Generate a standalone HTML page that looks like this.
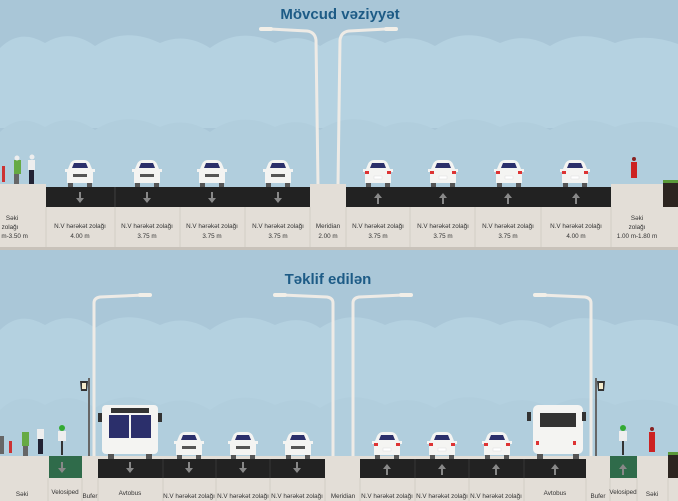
<!DOCTYPE html>
<html><head><meta charset="utf-8"><style>
html,body{margin:0;padding:0;width:678px;height:501px;overflow:hidden;background:#aac7d8}
svg{display:block}
text{font-family:"Liberation Sans",sans-serif}
.l{font-size:6.3px;fill:#333;text-anchor:middle}
.t{font-size:15px;font-weight:bold;fill:#1d5b86;text-anchor:middle}
</style></head><body>
<svg width="678" height="501" viewBox="0 0 678 501" style="overflow:hidden">
<defs>
<clipPath id="c1"><rect x="0" y="0" width="678" height="250"/></clipPath>
<clipPath id="c2"><rect x="0" y="250" width="678" height="251"/></clipPath>
<g id="cf">
<path d="M6 4 Q8 0 12 0 H20 Q24 0 26 4 L28 9 H31 V12 H29 V23 H3 V12 H1 V9 H4 Z" fill="#f4f4f2"/>
<path d="M8 8 L10 3 H22 L24 8 Z" fill="#2b2f6b"/>
<rect x="9" y="14" width="14" height="3" fill="#555"/>
<rect x="4" y="23" width="5" height="4" fill="#555"/><rect x="23" y="23" width="5" height="4" fill="#555"/>
</g>
<g id="cr">
<path d="M6 4 Q8 0 12 0 H20 Q24 0 26 4 L28 9 H31 V12 H29 V23 H3 V12 H1 V9 H4 Z" fill="#f4f4f2"/>
<path d="M8 8 L10 3 H22 L24 8 Z" fill="#2b2f6b"/>
<rect x="3" y="11" width="4" height="3" fill="#d33"/><rect x="25" y="11" width="4" height="3" fill="#d33"/>
<rect x="12" y="16" width="8" height="3" fill="#fff" stroke="#ddd" stroke-width=".5"/>
<rect x="4" y="23" width="5" height="4" fill="#555"/><rect x="23" y="23" width="5" height="4" fill="#555"/>
</g>
<g id="ad"><rect x="-1" y="-6" width="2" height="7" fill="#888"/><path d="M-4 0 L4 0 L0 5 Z" fill="#888"/></g>
<g id="au"><rect x="-1" y="-1" width="2" height="7" fill="#888"/><path d="M-4 0 L4 0 L0 -5 Z" fill="#888"/></g>
<path id="cl" d="M0 60 Q20 40 45 55 Q70 40 95 58 Q125 38 160 55 Q185 44 210 60 Q240 38 275 55 Q300 44 320 58 Q350 38 385 55 Q410 44 435 58 Q465 38 500 55 Q525 44 550 58 Q580 40 615 55 Q645 44 678 56 V140 H0 Z"/>
</defs>
<rect width="678" height="250" fill="#a9c6d7"/>
<g clip-path="url(#c1)">
<use href="#cl" y="-12" fill="#b5d2e1"/>
<use href="#cl" y="72" fill="#b1cedd"/>
</g>
<text class="t" x="340" y="19">Mövcud vəziyyət</text>
<path d="M318 185 L316 40 Q315 32 307 31 L270 29" stroke="#eeebe6" stroke-width="3" fill="none"/>
<rect x="259" y="27" width="14" height="4" rx="2" fill="#f2efe8"/>
<path d="M338 185 L340 40 Q341 32 349 31 L386 29" stroke="#eeebe6" stroke-width="3" fill="none"/>
<rect x="384" y="27" width="14" height="4" rx="2" fill="#f2efe8"/>
<rect x="0" y="184" width="46" height="64" fill="#e3ded7"/>
<rect x="46" y="207" width="264" height="41" fill="#e3ded7"/>
<rect x="310" y="184" width="36" height="64" fill="#e3ded7"/>
<rect x="346" y="207" width="265" height="41" fill="#e3ded7"/>
<rect x="611" y="184" width="52" height="64" fill="#e3ded7"/>
<rect x="663" y="182" width="15" height="66" fill="#e3ded7"/>
<rect x="663" y="182" width="15" height="25" fill="#2c2520"/>
<rect x="663" y="180" width="15" height="3" fill="#5a9a3a"/>
<rect x="0" y="247" width="678" height="3" fill="#c8c2ba"/>
<rect x="46" y="187" width="264" height="20" fill="#222"/>
<rect x="346" y="187" width="265" height="20" fill="#222"/>
<g stroke="#555" stroke-width=".6"><line x1="115" y1="187" x2="115" y2="207"/></g>
<g stroke="#cfc9c1" stroke-width=".8">
<line x1="46" y1="207" x2="46" y2="247"/><line x1="115" y1="207" x2="115" y2="247"/><line x1="180" y1="207" x2="180" y2="247"/><line x1="245" y1="207" x2="245" y2="247"/><line x1="310" y1="207" x2="310" y2="247"/><line x1="346" y1="207" x2="346" y2="247"/><line x1="410" y1="207" x2="410" y2="247"/><line x1="475" y1="207" x2="475" y2="247"/><line x1="541" y1="207" x2="541" y2="247"/><line x1="611" y1="207" x2="611" y2="247"/>
</g>
<use href="#ad" x="80" y="198"/><use href="#ad" x="147" y="198"/><use href="#ad" x="212" y="198"/><use href="#ad" x="278" y="198"/>
<use href="#au" x="378" y="198"/><use href="#au" x="443" y="198"/><use href="#au" x="508" y="198"/><use href="#au" x="576" y="198"/>
<use href="#cf" x="64" y="160"/><use href="#cf" x="131" y="160"/><use href="#cf" x="196" y="160"/><use href="#cf" x="262" y="160"/>
<use href="#cr" x="362" y="160"/><use href="#cr" x="427" y="160"/><use href="#cr" x="493" y="160"/><use href="#cr" x="559" y="160"/>
<rect x="2" y="166" width="3" height="16" fill="#c33"/>
<rect x="14" y="160" width="7" height="14" fill="#6a4"/><circle cx="17" cy="158" r="2.5" fill="#eee"/><rect x="14" y="174" width="5" height="10" fill="#666"/>
<rect x="28" y="160" width="7" height="10" fill="#eee"/><circle cx="32" cy="157" r="2.5" fill="#eee"/><rect x="29" y="170" width="5" height="14" fill="#223"/>
<rect x="631" y="162" width="6" height="16" fill="#c22"/><circle cx="634" cy="159" r="2" fill="#822"/>
<g class="l">
<text x="12" y="220">Səki</text><text x="10" y="229">zolağı</text><text x="12" y="238">0 m-3.50 m</text>
<text x="80" y="228">N.V hərəkət zolağı</text><text x="80" y="238">4.00 m</text>
<text x="147" y="228">N.V hərəkət zolağı</text><text x="147" y="238">3.75 m</text>
<text x="212" y="228">N.V hərəkət zolağı</text><text x="212" y="238">3.75 m</text>
<text x="278" y="228">N.V hərəkət zolağı</text><text x="278" y="238">3.75 m</text>
<text x="328" y="228">Meridian</text><text x="328" y="238">2.00 m</text>
<text x="378" y="228">N.V hərəkət zolağı</text><text x="378" y="238">3.75 m</text>
<text x="443" y="228">N.V hərəkət zolağı</text><text x="443" y="238">3.75 m</text>
<text x="508" y="228">N.V hərəkət zolağı</text><text x="508" y="238">3.75 m</text>
<text x="576" y="228">N.V hərəkət zolağı</text><text x="576" y="238">4.00 m</text>
<text x="637" y="220">Səki</text><text x="637" y="229">zolağı</text><text x="637" y="238">1.00 m-1.80 m</text>
</g>
<rect x="0" y="250" width="678" height="251" fill="#aac7d8"/>
<g clip-path="url(#c2)">
<use href="#cl" y="270" fill="#b4d1e0"/>
<use href="#cl" y="350" fill="#b1cedd"/>
</g>
<text class="t" x="328" y="284">Təklif edilən</text>
<path d="M94 456 L94 303 Q94 298 100 297 L145 295" stroke="#eeebe6" stroke-width="3" fill="none"/>
<rect x="138" y="293" width="14" height="4" rx="2" fill="#f2efe8"/>
<rect x="88" y="378" width="2" height="78" fill="#666"/><path d="M80 381 H88 L87 391 H81 Z" fill="#333"/><rect x="82" y="383" width="4" height="6" fill="#f5eccc"/>
<path d="M333 458 L333 303 Q333 298 327 297 L282 295" stroke="#eeebe6" stroke-width="3" fill="none"/>
<rect x="273" y="293" width="14" height="4" rx="2" fill="#f2efe8"/>
<path d="M353 458 L353 303 Q353 298 359 297 L404 295" stroke="#eeebe6" stroke-width="3" fill="none"/>
<rect x="399" y="293" width="14" height="4" rx="2" fill="#f2efe8"/>
<path d="M591 456 L591 303 Q591 298 585 297 L540 295" stroke="#eeebe6" stroke-width="3" fill="none"/>
<rect x="533" y="293" width="14" height="4" rx="2" fill="#f2efe8"/>
<rect x="595" y="378" width="2" height="78" fill="#666"/><path d="M597 381 H605 L604 391 H598 Z" fill="#333"/><rect x="599" y="383" width="4" height="6" fill="#f5eccc"/>
<rect x="0" y="456" width="678" height="45" fill="#e3ded7"/>
<rect x="49" y="456" width="33" height="22" fill="#2f6b4a"/>
<rect x="610" y="456" width="27" height="22" fill="#2f6b4a"/>
<rect x="98" y="459" width="227" height="19" fill="#222"/>
<rect x="360" y="459" width="226" height="19" fill="#222"/>
<rect x="668" y="454" width="10" height="24" fill="#2c2520"/><rect x="668" y="452" width="10" height="3" fill="#5a9a3a"/>
<g stroke="#cfc9c1" stroke-width=".8">
<line x1="48" y1="478" x2="48" y2="501"/><line x1="82" y1="478" x2="82" y2="501"/><line x1="98" y1="478" x2="98" y2="501"/><line x1="163" y1="478" x2="163" y2="501"/><line x1="216" y1="478" x2="216" y2="501"/><line x1="270" y1="478" x2="270" y2="501"/><line x1="325" y1="478" x2="325" y2="501"/><line x1="360" y1="478" x2="360" y2="501"/><line x1="415" y1="478" x2="415" y2="501"/><line x1="469" y1="478" x2="469" y2="501"/><line x1="524" y1="478" x2="524" y2="501"/><line x1="586" y1="478" x2="586" y2="501"/><line x1="610" y1="478" x2="610" y2="501"/><line x1="637" y1="478" x2="637" y2="501"/><line x1="668" y1="478" x2="668" y2="501"/>
</g>
<g stroke="#444" stroke-width=".6"><line x1="163" y1="459" x2="163" y2="478"/><line x1="216" y1="459" x2="216" y2="478"/><line x1="270" y1="459" x2="270" y2="478"/><line x1="415" y1="459" x2="415" y2="478"/><line x1="469" y1="459" x2="469" y2="478"/><line x1="524" y1="459" x2="524" y2="478"/></g>
<use href="#ad" x="62" y="468"/><use href="#ad" x="130" y="468"/><use href="#ad" x="189" y="468"/><use href="#ad" x="243" y="468"/><use href="#ad" x="297" y="468"/>
<use href="#au" x="387" y="469"/><use href="#au" x="442" y="469"/><use href="#au" x="496" y="469"/><use href="#au" x="555" y="469"/><use href="#au" x="623" y="469"/>
<rect x="102" y="405" width="56" height="49" rx="4" fill="#f4f4f2"/>
<rect x="111" y="408" width="38" height="5" fill="#333"/>
<rect x="109" y="415" width="20" height="23" fill="#2b2f6b"/><rect x="131" y="415" width="20" height="23" fill="#2b2f6b"/>
<rect x="98" y="413" width="4" height="9" fill="#333"/><rect x="158" y="413" width="4" height="9" fill="#333"/>
<rect x="108" y="454" width="6" height="5" fill="#555"/><rect x="146" y="454" width="6" height="5" fill="#555"/>
<rect x="533" y="405" width="50" height="49" rx="5" fill="#f4f4f2"/>
<rect x="540" y="413" width="36" height="14" fill="#333"/>
<rect x="527" y="412" width="4" height="9" fill="#333"/><rect x="582" y="412" width="4" height="9" fill="#333"/>
<rect x="536" y="441" width="3" height="4" fill="#d33"/><rect x="573" y="441" width="3" height="4" fill="#d33"/>
<rect x="537" y="454" width="6" height="5" fill="#555"/><rect x="573" y="454" width="6" height="5" fill="#555"/>
<use href="#cf" x="173" y="432"/><use href="#cf" x="227" y="432"/><use href="#cf" x="282" y="432"/>
<use href="#cr" x="371" y="432"/><use href="#cr" x="426" y="432"/><use href="#cr" x="481" y="432"/>
<rect x="0" y="436" width="4" height="18" fill="#666"/><rect x="9" y="441" width="3" height="12" fill="#c33"/>
<rect x="22" y="432" width="7" height="14" fill="#6a4"/><rect x="23" y="446" width="5" height="10" fill="#666"/>
<rect x="37" y="429" width="7" height="10" fill="#eee"/><rect x="38" y="439" width="5" height="15" fill="#223"/>
<circle cx="62" cy="428" r="3" fill="#3a3"/><rect x="58" y="431" width="8" height="10" fill="#eee"/><rect x="61" y="441" width="2" height="14" fill="#333"/>
<circle cx="623" cy="428" r="3" fill="#3a3"/><rect x="619" y="431" width="8" height="10" fill="#eee"/><rect x="622" y="441" width="2" height="14" fill="#333"/>
<rect x="649" y="432" width="6" height="20" fill="#c22"/><circle cx="652" cy="429" r="2" fill="#822"/>
<g class="l">
<text x="22" y="496">Səki</text><text x="65" y="494">Velosiped</text><text x="90" y="498">Bufer</text><text x="130" y="495">Avtobus</text>
<text x="189" y="498">N.V hərəkət zolağı</text><text x="243" y="498">N.V hərəkət zolağı</text><text x="297" y="498">N.V hərəkət zolağı</text>
<text x="343" y="498">Meridian</text>
<text x="387" y="498">N.V hərəkət zolağı</text><text x="442" y="498">N.V hərəkət zolağı</text><text x="496" y="498">N.V hərəkət zolağı</text>
<text x="555" y="495">Avtobus</text><text x="598" y="498">Bufer</text><text x="623" y="494">Velosiped</text><text x="652" y="496">Səki</text>
</g>
</svg>
</body></html>
